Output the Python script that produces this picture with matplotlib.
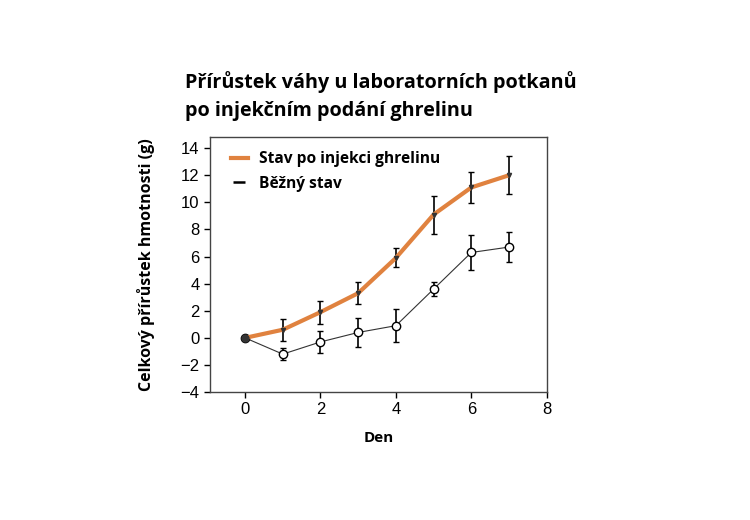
import matplotlib.pyplot as plt
from matplotlib.lines import Line2D

# den experimentu
dny = [0, 1, 2, 3, 4, 5, 6, 7]

# prirustek po injekci ghrelinu
ghrelin = [0, 0.6, 1.9, 3.3, 5.9, 9.1, 11.1, 12.0]
ghrelin_err = [0, 0.8, 0.85, 0.8, 0.7, 1.4, 1.15, 1.4]

# bezny stav
bezny = [0, -1.2, -0.3, 0.4, 0.9, 3.6, 6.3, 6.7]
bezny_err = [0, 0.45, 0.8, 1.1, 1.2, 0.5, 1.3, 1.1]

fig = plt.figure(figsize=(7.5, 5.2), dpi=100)
ax = fig.add_axes([0.28, 0.246, 0.449, 0.49])

ax.errorbar(dny, bezny, yerr=bezny_err, color="#333333", lw=0.8, marker="o",
            ms=6, mfc="white", mec="black", mew=1, ecolor="black",
            elinewidth=1.2, capsize=2.5, zorder=2)
ax.errorbar(dny, ghrelin, yerr=ghrelin_err, fmt="none", ecolor="black",
            elinewidth=1.2, capsize=2.5, zorder=3)
ax.plot(dny, ghrelin, color="#E0823F", lw=3, solid_capstyle="round", zorder=4)
ax.plot(dny, ghrelin, ls="none", marker="v", ms=3, color="#333333", zorder=5)
ax.plot([0], [0], marker="o", ms=5, color="#333333", zorder=6)

ax.set_xlim(-0.93, 8.0)
ax.set_ylim(-4, 14.8)
ax.set_xticks([0, 2, 4, 6, 8])
ax.set_yticks(range(-4, 15, 2))
ax.set_yticklabels([str(v).replace("-", "\u2212") for v in range(-4, 15, 2)])
ax.tick_params(labelsize=12, direction="out", length=4, width=1)
for lab in ax.get_xticklabels() + ax.get_yticklabels():
    lab.set_family("Liberation Sans")
for s in ax.spines.values():
    s.set_linewidth(1)
    s.set_color("#444444")

handles = [Line2D([], [], color="#E0823F", lw=3),
           Line2D([], [], color="black", ls="none", marker="_", ms=8, mew=1.8)]
leg = ax.legend(handles, ["Stav po injekci ghrelinu", "Běžný stav"],
                loc="upper left", frameon=False, handlelength=1.1,
                handletextpad=0.7,
                prop={"family": "Open Sans", "weight": "bold", "size": 11.2},
                bbox_to_anchor=(0.02, 1.0), labelspacing=0.55)

ax.set_ylabel("Celkový přírůstek hmotnosti (g)", family="Open Sans",
              weight="bold", size=11.5, labelpad=18)
ax.set_xlabel("Den", family="Open Sans", weight="bold", size=11, labelpad=10)

fig.text(0.247, 0.815, "Přírůstek váhy u laboratorních potkanů\npo injekčním podání ghrelinu",
         family="Open Sans", weight="bold", size=14.2, va="center", linespacing=1.5)

plt.savefig("out.png", dpi=100)
